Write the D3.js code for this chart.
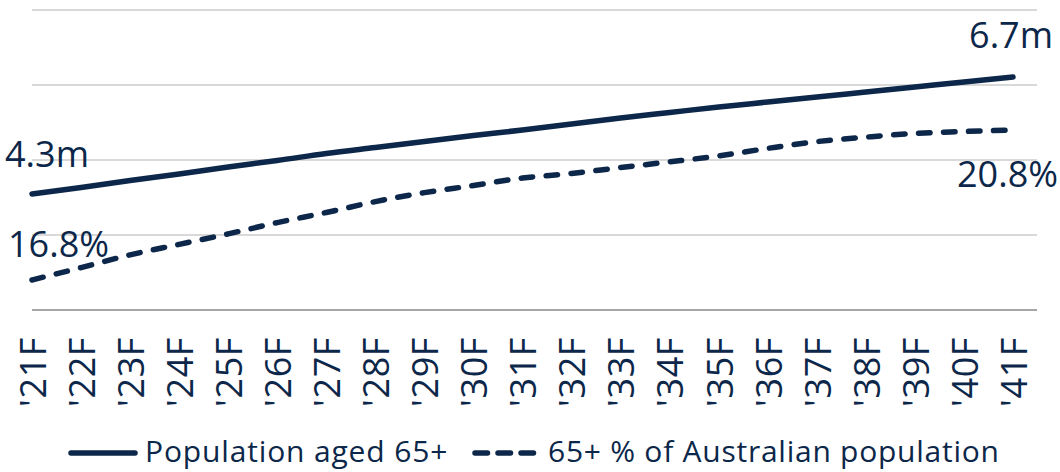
<!DOCTYPE html>
<html>
<head>
<meta charset="utf-8">
<script src="https://cdn.jsdelivr.net/npm/d3@7"></script>
<style>
  html, body { margin: 0; padding: 0; background: #ffffff; }
  svg { display: block; font-family: "Open Sans", "Noto Sans", sans-serif; }
</style>
</head>
<body>
<svg id="chart" width="1060" height="472"></svg>
<script>
const categories = ["'21F","'22F","'23F","'24F","'25F","'26F","'27F","'28F","'29F","'30F","'31F","'32F","'33F","'34F","'35F","'36F","'37F","'38F","'39F","'40F","'41F"];
const population65 = [4.32,4.45,4.59,4.72,4.86,4.99,5.13,5.25,5.37,5.49,5.60,5.72,5.84,5.95,6.06,6.16,6.26,6.36,6.46,6.56,6.66];
const share65 = [16.80,17.13,17.47,17.75,18.03,18.33,18.60,18.89,19.13,19.32,19.52,19.64,19.80,19.95,20.11,20.31,20.49,20.61,20.71,20.76,20.80];
const seriesNames = ["Population aged 65+", "65+ % of Australian population"];
const popTicks = [2, 3.5, 5, 6.5, 8];
const startLabels = ["4.3m", "16.8%"];
const endLabels = ["6.7m", "20.8%"];

const navy = "#0c2749";
const svg = d3.select("#chart");

const x = d3.scalePoint().domain(categories).range([32, 1013]);
const yPop = d3.scaleLinear().domain([2, 8]).range([310, 10]);
const yPct = d3.scaleLinear().domain([16, 24]).range([310, 10]);

// gridlines
svg.append("g").selectAll("line")
  .data(popTicks.slice(1))
  .join("line")
  .attr("x1", 32).attr("x2", 1037)
  .attr("y1", d => yPop(d)).attr("y2", d => yPop(d))
  .attr("stroke", "#d9d9d9").attr("stroke-width", 2);

// baseline
svg.append("line")
  .attr("x1", 32).attr("x2", 1037)
  .attr("y1", yPop(2)).attr("y2", yPop(2))
  .attr("stroke", "#a6a6a6").attr("stroke-width", 2);

// x axis labels
const xAxis = d3.axisBottom(x).tickSize(0).tickPadding(0);
const gx = svg.append("g").attr("transform", "translate(0,310)").call(xAxis);
gx.select(".domain").remove();
gx.selectAll("text")
  .attr("fill", navy)
  .attr("font-size", 36)
  .attr("font-family", "Open Sans")
  .attr("letter-spacing", "0.6px")
  .attr("text-anchor", "end")
  .attr("transform", "rotate(-90)")
  .attr("x", -27)
  .attr("y", 0)
  .attr("dy", "0.37em");

// lines
const popLine = d3.line()
  .x((d, i) => x(categories[i]))
  .y(d => yPop(d))
  .curve(d3.curveMonotoneX);
const pctLine = d3.line()
  .x((d, i) => x(categories[i]))
  .y(d => yPct(d))
  .curve(d3.curveMonotoneX);

svg.append("path").datum(population65)
  .attr("d", popLine)
  .attr("fill", "none").attr("stroke", navy)
  .attr("stroke-width", 5.5).attr("stroke-linecap", "round");

svg.append("path").datum(share65)
  .attr("d", pctLine)
  .attr("fill", "none").attr("stroke", navy)
  .attr("stroke-width", 5.5).attr("stroke-linecap", "round")
  .attr("stroke-dasharray", "11.5,13.5");

// data labels
const first = categories[0], last = categories[categories.length - 1];
const lbl = svg.append("g").attr("fill", navy).attr("font-size", 36);
lbl.append("text").text(startLabels[0])
  .attr("x", x(first) - 27).attr("y", yPop(population65[0]) - 27);
lbl.append("text").text(startLabels[1])
  .attr("x", x(first) - 24).attr("y", yPct(share65[0]) - 23);
lbl.append("text").text(endLabels[0]).attr("text-anchor", "end")
  .attr("x", x(last) + 40).attr("y", yPop(population65[20]) - 29);
lbl.append("text").text(endLabels[1]).attr("text-anchor", "end")
  .attr("x", x(last) + 45).attr("y", yPct(share65[20]) + 57);

// legend
const leg = svg.append("g");
leg.append("line")
  .attr("x1", 71).attr("x2", 135).attr("y1", 453).attr("y2", 453)
  .attr("stroke", navy).attr("stroke-width", 5.5).attr("stroke-linecap", "round");
leg.append("text").text(seriesNames[0])
  .attr("x", 145).attr("y", 462).attr("font-size", 30).attr("fill", navy)
  .attr("letter-spacing", "0.85px");
leg.append("line")
  .attr("x1", 475).attr("x2", 540).attr("y1", 453).attr("y2", 453)
  .attr("stroke", navy).attr("stroke-width", 5.5).attr("stroke-linecap", "round")
  .attr("stroke-dasharray", "12.5,10.5");
leg.append("text").text(seriesNames[1])
  .attr("x", 548).attr("y", 462).attr("font-size", 30).attr("fill", navy)
  .attr("letter-spacing", "0.75px");
</script>
</body>
</html>
